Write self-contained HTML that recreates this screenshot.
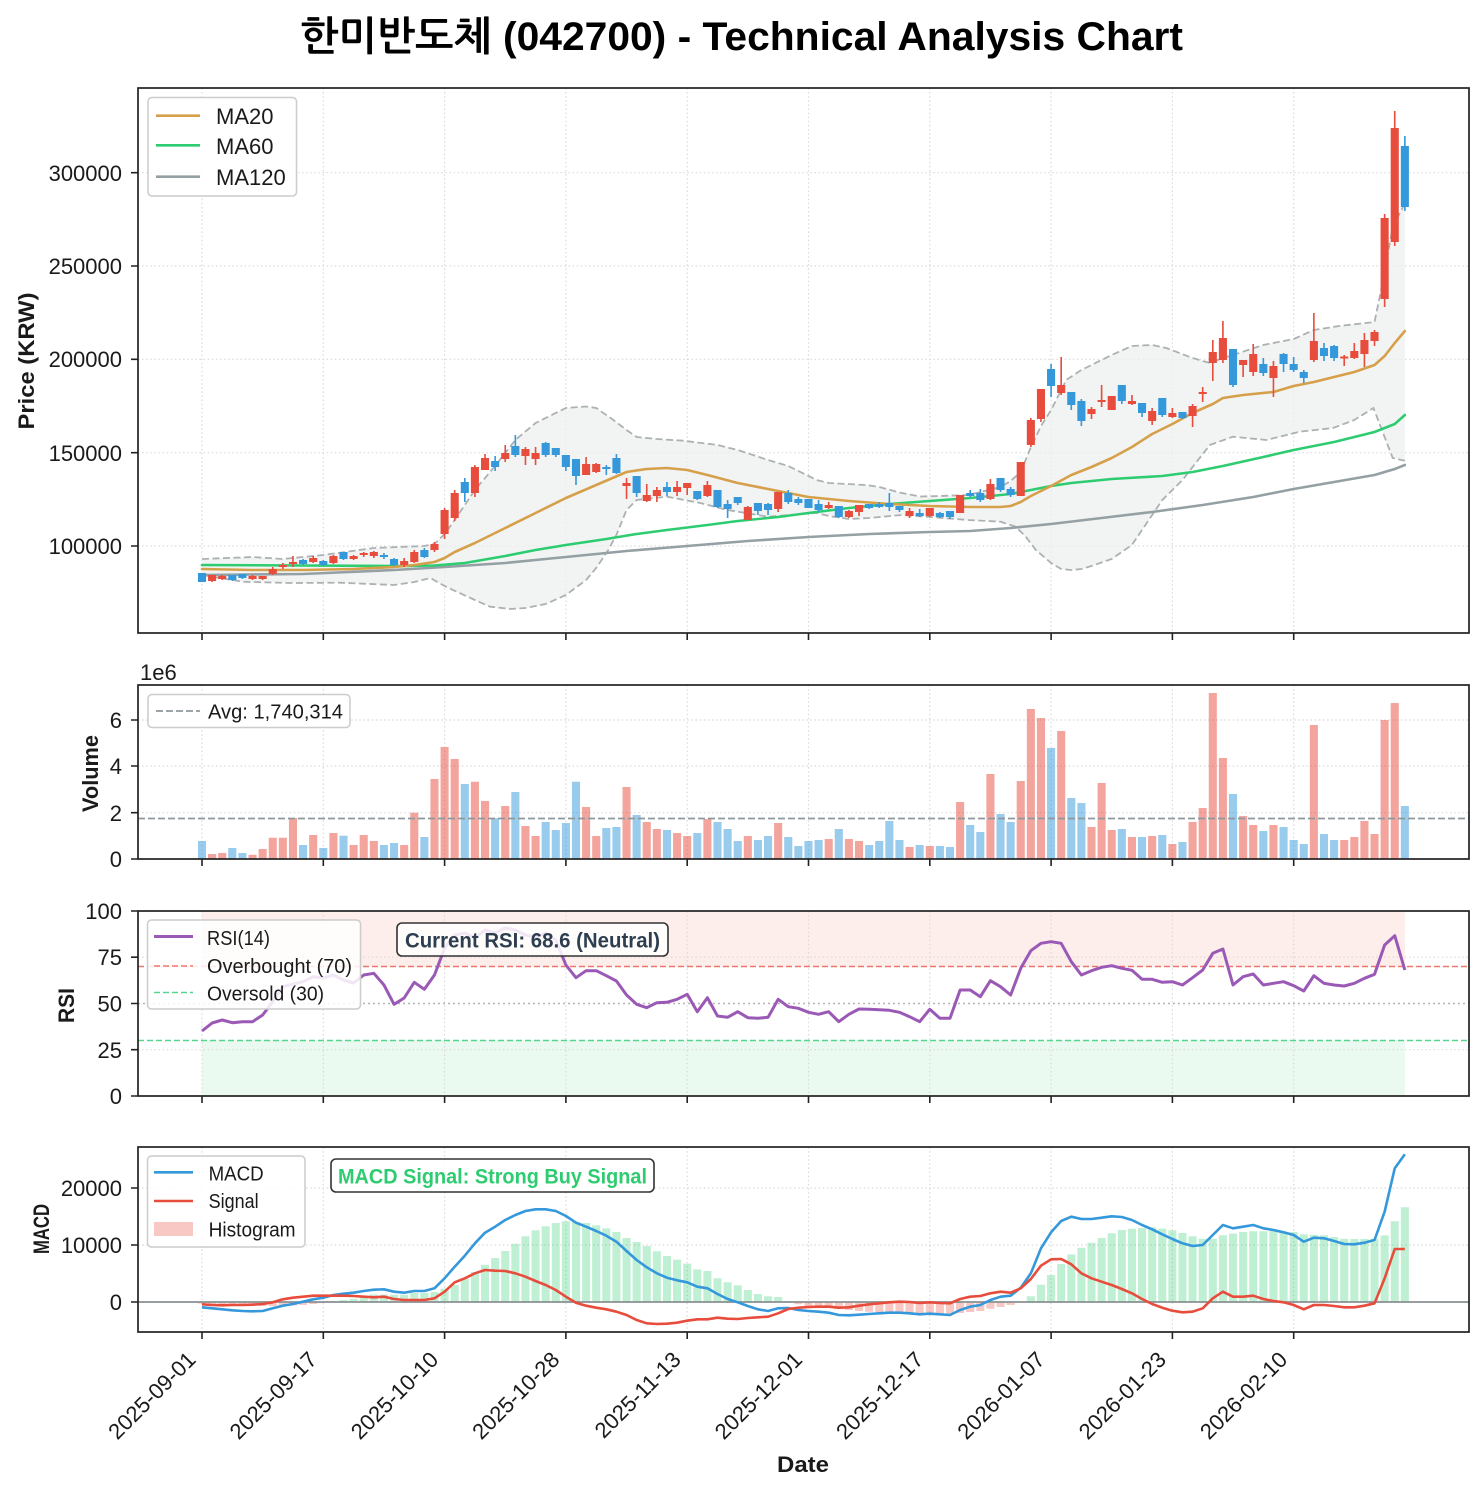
<!DOCTYPE html>
<html><head><meta charset="utf-8">
<style>
html,body{margin:0;padding:0;background:#fff}
svg{display:block}
text{font-family:"Liberation Sans","NanumGothic",sans-serif;fill:#1a1a1a}
.grid{fill:none;stroke:#d9d9d9;stroke-width:1.2;stroke-dasharray:1.5 2.6}
.frame{fill:none;stroke:#222;stroke-width:1.7}
.tick{fill:none;stroke:#222;stroke-width:1.6}
.yl{font-size:22px;text-anchor:end}
.xl{font-size:22px;text-anchor:end}
.al{font-size:22px;font-weight:bold;text-anchor:middle}
</style></head><body>
<svg width="1483" height="1491" viewBox="0 0 1483 1491" xmlns="http://www.w3.org/2000/svg">
<rect width="1483" height="1491" fill="#fff"/>

<text x="741.5" y="50" text-anchor="middle" font-size="40" font-weight="bold" textLength="883" lengthAdjust="spacingAndGlyphs" style="fill:#000;font-family:'Liberation Sans','NanumGothic',sans-serif">한미반도체 (042700) - Technical Analysis Chart</text>

<!-- ============ PRICE PANEL ============ -->
<path class="grid" d="M202,88V633M323.3,88V633M444.6,88V633M565.9,88V633M687.2,88V633M808.5,88V633M929.8,88V633M1051.1,88V633M1172.4,88V633M1293.7,88V633M138,172.7H1469M138,266H1469M138,359.3H1469M138,452.7H1469M138,546H1469"/>

<polygon fill="#eef0f0" fill-opacity="0.75" points="202,559 252.5,557 282.9,559 323.3,555 373.8,548 424.4,546 434.5,544 444.6,534 454.7,520 474.9,490 490.1,472 505.2,453 515.3,440 535.6,423 565.9,408 586.1,406.5 596.2,408 613.4,420 626.5,430 636.6,437 656.9,439 683.1,440.7 717.5,445 737.7,450 768,460 788.3,466 816.6,480 828.7,483 866.1,485 879.2,487 899.5,492.5 919.7,496.5 939.9,496 968.2,495 1000.5,487 1010.6,481 1020.7,472 1030.9,447 1041,426 1051.1,410 1066.2,380 1081.4,370 1101.6,360 1111.7,355 1131.9,346 1152.2,345 1166.3,348 1192.6,358 1209.8,363 1222.9,358 1233,355 1263.3,345 1293.7,339 1313.9,330 1339.2,326 1374.5,322 1382.6,283 1392.7,227 1404.9,203 1404.9,460.7 1392.7,458 1373.5,408 1354.3,420 1333.1,428 1299.7,431.7 1266.4,440 1233,436.7 1209.8,445 1182.5,480 1162.3,500 1150.1,518 1131.9,545 1111.7,559 1091.5,566 1081.4,569 1071.3,570 1061.2,569 1051.1,563 1035.9,550 1025.8,536.7 1015.7,526.7 1000.5,521.7 968.2,520 929.8,517 901.5,515 869.1,518 848.9,519 828.7,516 816.6,513 788.3,515 768,516.7 727.6,510 700.3,503 667,496.7 636.6,500 626.5,510 616.4,535 608.3,550 596.2,568 586.1,580 565.9,595 545.7,604 525.5,608 510.3,609 490.1,606.7 474.9,600 456.7,591.7 444.6,586 430.4,578 414.3,582 394.1,585 339.5,582.7 289.9,583 242.4,581.7 202,575"/>
<g fill="none" stroke="#acb1b3" stroke-width="1.8" stroke-dasharray="7 3.5">
<polyline points="202,559 252.5,557 282.9,559 323.3,555 373.8,548 424.4,546 434.5,544 444.6,534 454.7,520 474.9,490 490.1,472 505.2,453 515.3,440 535.6,423 565.9,408 586.1,406.5 596.2,408 613.4,420 626.5,430 636.6,437 656.9,439 683.1,440.7 717.5,445 737.7,450 768,460 788.3,466 816.6,480 828.7,483 866.1,485 879.2,487 899.5,492.5 919.7,496.5 939.9,496 968.2,495 1000.5,487 1010.6,481 1020.7,472 1030.9,447 1041,426 1051.1,410 1066.2,380 1081.4,370 1101.6,360 1111.7,355 1131.9,346 1152.2,345 1166.3,348 1192.6,358 1209.8,363 1222.9,358 1233,355 1263.3,345 1293.7,339 1313.9,330 1339.2,326 1374.5,322 1382.6,283 1392.7,227 1404.9,203"/>
<polyline points="202,575 242.4,581.7 289.9,583 339.5,582.7 394.1,585 414.3,582 430.4,578 444.6,586 456.7,591.7 474.9,600 490.1,606.7 510.3,609 525.5,608 545.7,604 565.9,595 586.1,580 596.2,568 608.3,550 616.4,535 626.5,510 636.6,500 667,496.7 700.3,503 727.6,510 768,516.7 788.3,515 816.6,513 828.7,516 848.9,519 869.1,518 901.5,515 929.8,517 968.2,520 1000.5,521.7 1015.7,526.7 1025.8,536.7 1035.9,550 1051.1,563 1061.2,569 1071.3,570 1081.4,569 1091.5,566 1111.7,559 1131.9,545 1150.1,518 1162.3,500 1182.5,480 1209.8,445 1233,436.7 1266.4,440 1299.7,431.7 1333.1,428 1354.3,420 1373.5,408 1392.7,458 1404.9,460.7"/>
</g>

<g transform="translate(202,0) scale(10.108,1)">
<g fill="none" stroke-width="2.6" stroke-linejoin="round" stroke-linecap="round">
<polyline vector-effect="non-scaling-stroke" stroke="#95a0a5" points="0,575 10,574 19,570 24,567 30,563 36,557 42,551 48,546 54,541 60,537 66,534 72,532 76,531 80,528 84,524 89,518 94,512 99,505 104,497 108,489 112,482 116,475 118,469 119,465"/>
<polyline vector-effect="non-scaling-stroke" stroke="#2ecc71" points="0,565 10,565.5 20,566 23,565.5 26,563 30,556 33,550 36,545 40,539 43,534 46,530 50,525 53,521 57,517 60,513 64,508 68,504 72,501 76,498 80,494 82,490 84,486 86,483 88,481 90,479 95,476 98,472 101,466 105,457 108,450 112,442 116,432 118,424 119,415"/>
<polyline vector-effect="non-scaling-stroke" stroke="#d6a04a" points="0,569 5,570 10,570 15,569 19,567 21,565 23,562 24,558 25,552 27,543 30,528 33,513 36,498 39,485 42,472 44,469 46,468 48,470 50,475 53,483 56,489 60,497 64,501 68,504 72,506 76,507 79,507 80,506 81,502 82,496 84,486 86,475 88,467 90,458 92,447 94,434 96,424 98,413 100,404 101,398 103,395 106,392 108,386 110,382 112,377 114,372 116,365 117,356 118,343 119,331"/>
</g>
<path fill="#e74c3c" d="M.6,575h.8v6h-.8zM.92,575h.16v7h-.16zM1.6,576h.8v3h-.8zM1.92,575h.16v5h-.16zM4.6,576h.8v3h-.8zM4.92,575h.16v5h-.16zM5.6,576h.8v3h-.8zM5.92,576h.16v4h-.16zM6.6,569h.8v5h-.8zM6.92,567h.16v8h-.16zM7.6,565h.8v2h-.8zM7.92,563h.16v6h-.16zM8.6,562h.8v2h-.8zM8.92,556h.16v11h-.16zM10.6,558h.8v4h-.8zM10.92,556h.16v7h-.16zM12.6,556h.8v7h-.8zM12.92,555h.16v9h-.16zM14.6,556h.8v3h-.8zM14.92,555h.16v5h-.16zM15.6,553h.8v2h-.8zM15.92,552h.16v5h-.16zM16.6,552h.8v4h-.8zM16.92,551h.16v7h-.16zM19.6,561h.8v4h-.8zM19.92,558h.16v9h-.16zM20.6,552h.8v10h-.8zM20.92,550h.16v13h-.16zM22.6,544h.8v6h-.8zM22.92,542h.16v10h-.16zM23.6,510h.8v24h-.8zM23.92,508h.16v31h-.16zM24.6,493h.8v25h-.8zM24.92,490h.16v31h-.16zM26.6,467h.8v26h-.8zM26.92,465h.16v32h-.16zM27.6,458h.8v12h-.8zM27.92,454h.16v16h-.16zM29.6,453h.8v6h-.8zM29.92,445h.16v17h-.16zM31.6,449h.8v7h-.8zM31.92,447h.16v18h-.16zM32.6,453h.8v6h-.8zM32.92,447h.16v18h-.16zM37.6,464h.8v11h-.8zM37.92,457h.16v18h-.16zM38.6,464h.8v8h-.8zM38.92,463h.16v10h-.16zM41.6,483h.8v3h-.8zM41.92,478h.16v21h-.16zM43.6,495h.8v6h-.8zM43.92,484h.16v18h-.16zM44.6,490h.8v6h-.8zM44.92,487h.16v15h-.16zM46.6,487h.8v5h-.8zM46.92,481h.16v15h-.16zM47.6,483h.8v5h-.8zM47.92,483h.16v12h-.16zM49.6,485h.8v11h-.8zM49.92,481h.16v16h-.16zM53.6,507h.8v13h-.8zM53.92,506h.16v14h-.16zM56.6,492h.8v17h-.8zM56.92,492h.16v20h-.16zM61.6,505h.8v3h-.8zM61.92,502h.16v7h-.16zM63.6,511h.8v6h-.8zM63.92,510h.16v8h-.16zM64.6,505h.8v7h-.8zM64.92,505h.16v11h-.16zM69.6,511h.8v5h-.8zM69.92,508h.16v10h-.16zM71.6,508h.8v8h-.8zM71.92,508h.16v9h-.16zM74.6,495h.8v18h-.8zM77.6,484h.8v15h-.8zM77.92,479h.16v21h-.16zM80.6,462h.8v34h-.8zM81.6,420h.8v25h-.8zM81.92,418h.16v29h-.16zM82.6,389h.8v30h-.8zM82.92,389h.16v33h-.16zM84.6,385h.8v8h-.8zM84.92,357h.16v38h-.16zM87.6,409h.8v5h-.8zM87.92,407h.16v12h-.16zM88.6,400h.8v2h-.8zM88.92,385h.16v22h-.16zM89.6,396h.8v14h-.8zM91.6,401h.8v3h-.8zM91.92,395h.16v10h-.16zM93.6,411h.8v10h-.8zM93.92,408h.16v17h-.16zM95.6,413h.8v4h-.8zM95.92,408h.16v10h-.16zM97.6,406h.8v10h-.8zM97.92,404h.16v23h-.16zM98.6,392h.8v2h-.8zM98.92,387h.16v15h-.16zM99.6,352h.8v11h-.8zM99.92,340h.16v41h-.16zM100.6,338h.8v22h-.8zM100.92,321h.16v42h-.16zM102.6,360h.8v5h-.8zM102.92,360h.16v17h-.16zM103.6,354h.8v18h-.8zM103.92,344h.16v32h-.16zM105.6,366h.8v12h-.8zM105.92,361h.16v36h-.16zM109.6,341h.8v19h-.8zM109.92,313h.16v49h-.16zM112.6,356.5h.8v2h-.8zM112.92,355h.16v11h-.16zM113.6,351h.8v7h-.8zM113.92,343h.16v16h-.16zM114.6,340h.8v14h-.8zM114.92,333h.16v34h-.16zM115.6,332h.8v9h-.8zM115.92,330h.16v16h-.16zM116.6,218h.8v81h-.8zM116.92,214h.16v93h-.16zM117.6,128h.8v114h-.8zM117.92,111h.16v135h-.16z"/>
<path fill="#3498db" d="M-.4,573h.8v9h-.8zM-.08,573h.16v9h-.16zM2.6,575h.8v5h-.8zM2.92,575h.16v6h-.16zM3.6,574h.8v4h-.8zM3.92,574h.16v5h-.16zM9.6,560h.8v4h-.8zM9.92,559h.16v6h-.16zM11.6,561h.8v4h-.8zM11.92,560h.16v6h-.16zM13.6,552h.8v7h-.8zM13.92,552h.16v8h-.16zM17.6,555h.8v2h-.8zM17.92,553h.16v6h-.16zM18.6,559h.8v6h-.8zM18.92,558h.16v8h-.16zM21.6,550h.8v7h-.8zM21.92,548h.16v10h-.16zM25.6,482h.8v11h-.8zM25.92,478h.16v24h-.16zM28.6,461h.8v6h-.8zM28.92,456h.16v15h-.16zM30.6,446h.8v9h-.8zM30.92,435h.16v22h-.16zM33.6,443h.8v12h-.8zM33.92,442h.16v15h-.16zM34.6,448h.8v7h-.8zM34.92,448h.16v9h-.16zM35.6,455h.8v12h-.8zM35.92,455h.16v16h-.16zM36.6,459h.8v17h-.8zM36.92,459h.16v26h-.16zM39.6,467h.8v2h-.8zM39.92,465h.16v10h-.16zM40.6,458h.8v15h-.8zM40.92,454h.16v20h-.16zM42.6,476h.8v17h-.8zM42.92,476h.16v21h-.16zM45.6,487h.8v5h-.8zM45.92,482h.16v14h-.16zM48.6,491h.8v8h-.8zM48.92,491h.16v9h-.16zM50.6,490h.8v17h-.8zM50.92,490h.16v18h-.16zM51.6,504h.8v5h-.8zM51.92,500h.16v18h-.16zM52.6,497h.8v6h-.8zM52.92,497h.16v8h-.16zM54.6,503h.8v8h-.8zM54.92,503h.16v12h-.16zM55.6,504h.8v6h-.8zM55.92,503h.16v12h-.16zM57.6,493h.8v9h-.8zM57.92,490h.16v14h-.16zM58.6,499h.8v4h-.8zM58.92,497h.16v8h-.16zM59.6,499h.8v9h-.8zM60.6,504h.8v6h-.8zM60.92,500h.16v12h-.16zM62.6,506h.8v11h-.8zM62.92,506h.16v12h-.16zM65.6,504h.8v4h-.8zM65.92,504h.16v5h-.16zM66.6,504h.8v3h-.8zM66.92,502h.16v6h-.16zM67.6,503h.8v4h-.8zM67.92,493h.16v18h-.16zM68.6,506h.8v4h-.8zM68.92,506h.16v6h-.16zM70.6,513h.8v3h-.8zM70.92,509h.16v8h-.16zM72.6,513h.8v4h-.8zM72.92,512h.16v6h-.16zM73.6,511h.8v6h-.8zM73.92,511h.16v8h-.16zM75.6,493h.8v3h-.8zM75.92,490h.16v7h-.16zM76.6,493h.8v7h-.8zM76.92,489h.16v13h-.16zM78.6,478h.8v12h-.8zM78.92,478h.16v14h-.16zM79.6,489h.8v6h-.8zM79.92,487h.16v10h-.16zM83.6,369h.8v17h-.8zM83.92,364h.16v33h-.16zM85.6,392h.8v13h-.8zM85.92,392h.16v18h-.16zM86.6,401h.8v20h-.8zM86.92,399h.16v27h-.16zM90.6,385h.8v16h-.8zM90.92,385h.16v19h-.16zM92.6,403h.8v10h-.8zM92.92,403h.16v14h-.16zM94.6,398h.8v17h-.8zM94.92,398h.16v19h-.16zM96.6,412h.8v6h-.8zM96.92,412h.16v7h-.16zM101.6,349h.8v36h-.8zM101.92,349h.16v38h-.16zM104.6,364h.8v9h-.8zM104.92,358h.16v18h-.16zM106.6,354h.8v10h-.8zM106.92,353h.16v19h-.16zM107.6,364h.8v6h-.8zM107.92,357h.16v15h-.16zM108.6,372h.8v6h-.8zM108.92,370h.16v13h-.16zM110.6,348h.8v8h-.8zM110.92,343h.16v18h-.16zM111.6,346h.8v12h-.8zM111.92,345h.16v16h-.16zM118.6,146h.8v61h-.8zM118.92,136h.16v75h-.16z"/>
</g>

<rect class="frame" x="138" y="88" width="1331" height="545"/>
<path class="tick" d="M131,172.7H138M131,266H138M131,359.3H138M131,452.7H138M131,546H138M202,633V640M323.3,633V640M444.6,633V640M565.9,633V640M687.2,633V640M808.5,633V640M929.8,633V640M1051.1,633V640M1172.4,633V640M1293.7,633V640"/>
<text class="yl" x="122" y="181">300000</text>
<text class="yl" x="122" y="274">250000</text>
<text class="yl" x="122" y="367">200000</text>
<text class="yl" x="122" y="461">150000</text>
<text class="yl" x="122" y="554">100000</text>
<text class="al" transform="translate(34,361) rotate(-90)" font-size="23" textLength="137" lengthAdjust="spacingAndGlyphs">Price (KRW)</text>

<rect x="148" y="97.5" width="148.5" height="98.5" rx="4" fill="#fff" fill-opacity="0.85" stroke="#cccccc" stroke-width="1.5"/>
<path d="M156,115.7H200" stroke="#d6a04a" stroke-width="2.6"/>
<path d="M156,145.3H200" stroke="#2ecc71" stroke-width="2.6"/>
<path d="M156,176.7H200" stroke="#95a0a5" stroke-width="2.6"/>
<text x="216" y="124" font-size="22">MA20</text>
<text x="216" y="154" font-size="22">MA60</text>
<text x="216" y="185" font-size="22">MA120</text>

<!-- ============ VOLUME PANEL ============ -->
<path class="grid" d="M202,685V859M323.3,685V859M444.6,685V859M565.9,685V859M687.2,685V859M808.5,685V859M929.8,685V859M1051.1,685V859M1172.4,685V859M1293.7,685V859M138,812.7H1469M138,766H1469M138,720H1469"/>
<g transform="translate(202,0) scale(10.108,1)">
<path fill="#e74c3c" fill-opacity="0.5" d="M.6,859V854h.8V859zM1.6,859V853h.8V859zM4.6,859V854.7h.8V859zM5.6,859V849h.8V859zM6.6,859V837.7h.8V859zM7.6,859V837.7h.8V859zM8.6,859V818h.8V859zM10.6,859V835h.8V859zM12.6,859V833h.8V859zM14.6,859V845h.8V859zM15.6,859V835h.8V859zM16.6,859V841h.8V859zM19.6,859V845h.8V859zM20.6,859V812.7h.8V859zM22.6,859V779h.8V859zM23.6,859V747h.8V859zM24.6,859V759h.8V859zM26.6,859V781.7h.8V859zM27.6,859V801h.8V859zM29.6,859V806h.8V859zM31.6,859V826h.8V859zM32.6,859V836h.8V859zM37.6,859V807h.8V859zM38.6,859V836h.8V859zM41.6,859V787h.8V859zM43.6,859V822h.8V859zM44.6,859V829h.8V859zM46.6,859V833h.8V859zM47.6,859V836h.8V859zM49.6,859V819h.8V859zM53.6,859V836h.8V859zM56.6,859V823h.8V859zM61.6,859V839h.8V859zM63.6,859V839h.8V859zM64.6,859V841h.8V859zM69.6,859V847h.8V859zM71.6,859V846h.8V859zM74.6,859V802h.8V859zM77.6,859V774h.8V859zM80.6,859V781h.8V859zM81.6,859V709h.8V859zM82.6,859V718h.8V859zM84.6,859V731h.8V859zM87.6,859V827h.8V859zM88.6,859V783h.8V859zM89.6,859V830h.8V859zM91.6,859V837h.8V859zM93.6,859V836h.8V859zM95.6,859V844h.8V859zM97.6,859V822h.8V859zM98.6,859V808h.8V859zM99.6,859V693h.8V859zM100.6,859V758h.8V859zM102.6,859V816h.8V859zM103.6,859V825h.8V859zM105.6,859V825h.8V859zM109.6,859V725h.8V859zM112.6,859V840h.8V859zM113.6,859V837h.8V859zM114.6,859V821h.8V859zM115.6,859V834h.8V859zM116.6,859V720h.8V859zM117.6,859V703h.8V859z"/>
<path fill="#3498db" fill-opacity="0.5" d="M-.4,859V841h.8V859zM2.6,859V848h.8V859zM3.6,859V853h.8V859zM9.6,859V845h.8V859zM11.6,859V848h.8V859zM13.6,859V835.7h.8V859zM17.6,859V845h.8V859zM18.6,859V843h.8V859zM21.6,859V837h.8V859zM25.6,859V784h.8V859zM28.6,859V818.3h.8V859zM30.6,859V792h.8V859zM33.6,859V822h.8V859zM34.6,859V830h.8V859zM35.6,859V823h.8V859zM36.6,859V781.7h.8V859zM39.6,859V828h.8V859zM40.6,859V827h.8V859zM42.6,859V815h.8V859zM45.6,859V830h.8V859zM48.6,859V833h.8V859zM50.6,859V822h.8V859zM51.6,859V829h.8V859zM52.6,859V841h.8V859zM54.6,859V840h.8V859zM55.6,859V836h.8V859zM57.6,859V837h.8V859zM58.6,859V846h.8V859zM59.6,859V841h.8V859zM60.6,859V840h.8V859zM62.6,859V829h.8V859zM65.6,859V845h.8V859zM66.6,859V841h.8V859zM67.6,859V821h.8V859zM68.6,859V840h.8V859zM70.6,859V845h.8V859zM72.6,859V846h.8V859zM73.6,859V847h.8V859zM75.6,859V825h.8V859zM76.6,859V832h.8V859zM78.6,859V814h.8V859zM79.6,859V822h.8V859zM83.6,859V748h.8V859zM85.6,859V798h.8V859zM86.6,859V803h.8V859zM90.6,859V829h.8V859zM92.6,859V837h.8V859zM94.6,859V835h.8V859zM96.6,859V842h.8V859zM101.6,859V794h.8V859zM104.6,859V831h.8V859zM106.6,859V827h.8V859zM107.6,859V840h.8V859zM108.6,859V844h.8V859zM110.6,859V834h.8V859zM111.6,859V840h.8V859zM118.6,859V806h.8V859z"/>
</g>
<path d="M138,818.5H1469" stroke="#8e999d" stroke-width="1.8" stroke-dasharray="7 3"/>
<rect class="frame" x="138" y="685" width="1331" height="174"/>
<path class="tick" d="M131,859H138M131,812.7H138M131,766H138M131,720H138M202,859V866M323.3,859V866M444.6,859V866M565.9,859V866M687.2,859V866M808.5,859V866M929.8,859V866M1051.1,859V866M1172.4,859V866M1293.7,859V866"/>
<text class="yl" x="122" y="867">0</text>
<text class="yl" x="122" y="821">2</text>
<text class="yl" x="122" y="774">4</text>
<text class="yl" x="122" y="728">6</text>
<text x="140" y="680" font-size="22">1e6</text>
<text class="al" transform="translate(98,773.5) rotate(-90)" textLength="77" lengthAdjust="spacingAndGlyphs">Volume</text>
<rect x="148" y="694.5" width="202" height="33" rx="4" fill="#fff" fill-opacity="0.85" stroke="#cccccc" stroke-width="1.5"/>
<path d="M156,711H200" stroke="#8e999d" stroke-width="1.8" stroke-dasharray="7 3"/>
<text x="208" y="718.5" font-size="20" textLength="135" lengthAdjust="spacingAndGlyphs">Avg: 1,740,314</text>

<!-- ============ RSI PANEL ============ -->
<rect x="202" y="911" width="1202.9" height="55.5" fill="#e74c3c" fill-opacity="0.1"/>
<rect x="202" y="1040.5" width="1202.9" height="55.5" fill="#2ecc71" fill-opacity="0.1"/>
<path class="grid" d="M202,911V1096M323.3,911V1096M444.6,911V1096M565.9,911V1096M687.2,911V1096M808.5,911V1096M929.8,911V1096M1051.1,911V1096M1172.4,911V1096M1293.7,911V1096M138,957.2H1469M138,1049.7H1469"/>
<path d="M138,1003.5H1469" stroke="#b5b5b5" stroke-width="1.5" stroke-dasharray="2 3"/>
<path d="M138,966.5H1469" stroke="#e74c3c" stroke-opacity="0.75" stroke-width="1.6" stroke-dasharray="6 3"/>
<path d="M138,1040.5H1469" stroke="#2ecc71" stroke-opacity="0.8" stroke-width="1.6" stroke-dasharray="6 3"/>
<g transform="translate(202,0) scale(10.108,1)">
<polyline vector-effect="non-scaling-stroke" fill="none" stroke="#9b59b6" stroke-width="3" stroke-linejoin="round" points="0,1031 1,1023 2,1020 3,1022.7 4,1021.7 5,1021.7 6,1015 7,1001.7 8,986.7 9,984 10,981.7 11,976.7 12,978 13,975 14,980 15,983 16,975 17,973.3 18,985 19,1004.3 20,998 21,982.3 22,989.3 23,975 24,948.3 25,935 26,933 27,938 28,930 29,933 30,928 31,930 32,935 33,937 34,933 35,940 36,965 37,977.7 38,970.7 39,970.7 40,975.7 41,981 42,995 43,1004.3 44,1007.7 45,1002.7 46,1002.3 47,999.3 48,994.3 49,1011.7 50,997.7 51,1016 52,1017.3 53,1011.7 54,1017.7 55,1018.3 56,1017.3 57,999.3 58,1006.7 59,1008.3 60,1012.3 61,1014.3 62,1011.7 63,1021.7 64,1014.3 65,1009 66,1009.3 67,1009.7 68,1010.3 69,1012.3 70,1016.7 71,1021.7 72,1009.3 73,1018.3 74,1018.3 75,990 76,990 77,996.7 78,980.7 79,986.7 80,995 81,968.3 82,950.7 83,943.3 84,941.7 85,943.3 86,961.7 87,975 88,970.7 89,967.3 90,965.7 91,968.3 92,970.3 93,979.3 94,979.3 95,982.3 96,981.7 97,985 98,977.7 99,970 100,953.3 101,949 102,985 103,976.7 104,974 105,985 106,983.3 107,981.7 108,985.7 109,991 110,975.7 111,983.3 112,985 113,986 114,983.3 115,978.3 116,974.3 117,945 118,935.7 119,970"/>
</g>
<rect class="frame" x="138" y="911" width="1331" height="185"/>
<path class="tick" d="M131,1096H138M131,1049.7H138M131,1003.5H138M131,957.2H138M131,911H138M202,1096V1103M323.3,1096V1103M444.6,1096V1103M565.9,1096V1103M687.2,1096V1103M808.5,1096V1103M929.8,1096V1103M1051.1,1096V1103M1172.4,1096V1103M1293.7,1096V1103"/>
<text class="yl" x="122" y="1104">0</text>
<text class="yl" x="122" y="1058">25</text>
<text class="yl" x="122" y="1011.5">50</text>
<text class="yl" x="122" y="965">75</text>
<text class="yl" x="122" y="919">100</text>
<text class="al" transform="translate(74,1005.5) rotate(-90)" textLength="35" lengthAdjust="spacingAndGlyphs">RSI</text>
<rect x="147.5" y="920" width="213" height="89" rx="4" fill="#fff" fill-opacity="0.85" stroke="#cccccc" stroke-width="1.5"/>
<path d="M154,936.5H193" stroke="#9b59b6" stroke-width="3"/>
<path d="M154,966H193" stroke="#e74c3c" stroke-opacity="0.75" stroke-width="1.6" stroke-dasharray="6 3"/>
<path d="M154,992.5H193" stroke="#2ecc71" stroke-opacity="0.8" stroke-width="1.6" stroke-dasharray="6 3"/>
<text x="207" y="945" font-size="20" textLength="63" lengthAdjust="spacingAndGlyphs">RSI(14)</text>
<text x="207" y="973" font-size="20" textLength="145" lengthAdjust="spacingAndGlyphs">Overbought (70)</text>
<text x="207" y="1000.5" font-size="20" textLength="117" lengthAdjust="spacingAndGlyphs">Oversold (30)</text>
<rect x="397" y="923" width="271" height="33" rx="5" fill="#fff" fill-opacity="0.85" stroke="#333" stroke-width="1.6"/>
<text x="532.5" y="947.5" text-anchor="middle" font-size="21" font-weight="bold" textLength="255" lengthAdjust="spacingAndGlyphs" style="fill:#2c3e50">Current RSI: 68.6 (Neutral)</text>

<!-- ============ MACD PANEL ============ -->
<path class="grid" d="M202,1147V1332M323.3,1147V1332M444.6,1147V1332M565.9,1147V1332M687.2,1147V1332M808.5,1147V1332M929.8,1147V1332M1051.1,1147V1332M1172.4,1147V1332M1293.7,1147V1332M138,1188H1469M138,1245H1469"/>
<g transform="translate(202,0) scale(10.108,1)">
<path fill="#2ecc71" fill-opacity="0.3" d="M12.6,1302V1301.3h.8V1302zM13.6,1302V1300h.8V1302zM14.6,1302V1298.7h.8V1302zM15.6,1302V1296.3h.8V1302zM16.6,1302V1294.4h.8V1302zM17.6,1302V1294.6h.8V1302zM18.6,1302V1294.7h.8V1302zM19.6,1302V1294.7h.8V1302zM20.6,1302V1293h.8V1302zM21.6,1302V1293h.8V1302zM22.6,1302V1292h.8V1302zM23.6,1302V1288.6h.8V1302zM24.6,1302V1285h.8V1302zM25.6,1302V1279h.8V1302zM26.6,1302V1272h.8V1302zM27.6,1302V1264.7h.8V1302zM28.6,1302V1258h.8V1302zM29.6,1302V1251h.8V1302zM30.6,1302V1243.7h.8V1302zM31.6,1302V1236.3h.8V1302zM32.6,1302V1230.3h.8V1302zM33.6,1302V1226.3h.8V1302zM34.6,1302V1223h.8V1302zM35.6,1302V1221.3h.8V1302zM36.6,1302V1222h.8V1302zM37.6,1302V1223h.8V1302zM38.6,1302V1225.3h.8V1302zM39.6,1302V1228.4h.8V1302zM40.6,1302V1232h.8V1302zM41.6,1302V1238h.8V1302zM42.6,1302V1242h.8V1302zM43.6,1302V1246h.8V1302zM44.6,1302V1251.3h.8V1302zM45.6,1302V1256h.8V1302zM46.6,1302V1259.6h.8V1302zM47.6,1302V1263.6h.8V1302zM48.6,1302V1269.4h.8V1302zM49.6,1302V1271h.8V1302zM50.6,1302V1278.3h.8V1302zM51.6,1302V1282.3h.8V1302zM52.6,1302V1285.3h.8V1302zM53.6,1302V1290h.8V1302zM54.6,1302V1294h.8V1302zM55.6,1302V1296.3h.8V1302zM56.6,1302V1297h.8V1302zM57.6,1302V1301h.8V1302zM80.6,1302V1301.4h.8V1302zM81.6,1302V1296.3h.8V1302zM82.6,1302V1284.6h.8V1302zM83.6,1302V1275h.8V1302zM84.6,1302V1264h.8V1302zM85.6,1302V1254.4h.8V1302zM86.6,1302V1247.7h.8V1302zM87.6,1302V1242.7h.8V1302zM88.6,1302V1238h.8V1302zM89.6,1302V1233.3h.8V1302zM90.6,1302V1230h.8V1302zM91.6,1302V1228.7h.8V1302zM92.6,1302V1228h.8V1302zM93.6,1302V1227.3h.8V1302zM94.6,1302V1228.6h.8V1302zM95.6,1302V1230.3h.8V1302zM96.6,1302V1233h.8V1302zM97.6,1302V1236.3h.8V1302zM98.6,1302V1238.7h.8V1302zM99.6,1302V1238.7h.8V1302zM100.6,1302V1235.3h.8V1302zM101.6,1302V1233.6h.8V1302zM102.6,1302V1232h.8V1302zM103.6,1302V1231.3h.8V1302zM104.6,1302V1231.3h.8V1302zM105.6,1302V1231h.8V1302zM106.6,1302V1232h.8V1302zM107.6,1302V1232h.8V1302zM108.6,1302V1234.4h.8V1302zM109.6,1302V1234.7h.8V1302zM110.6,1302V1235.3h.8V1302zM111.6,1302V1237h.8V1302zM112.6,1302V1238.7h.8V1302zM113.6,1302V1239h.8V1302zM114.6,1302V1239h.8V1302zM115.6,1302V1238.7h.8V1302zM116.6,1302V1235.4h.8V1302zM117.6,1302V1221.3h.8V1302zM118.6,1302V1207.3h.8V1302z"/>
<path fill="#e74c3c" fill-opacity="0.3" d="M-.4,1302V1303.5h.8V1302zM.6,1302V1304h.8V1302zM1.6,1302V1304.5h.8V1302zM2.6,1302V1305h.8V1302zM3.6,1302V1305h.8V1302zM4.6,1302V1305.5h.8V1302zM5.6,1302V1306h.8V1302zM6.6,1302V1306h.8V1302zM7.6,1302V1306h.8V1302zM8.6,1302V1305.5h.8V1302zM9.6,1302V1305h.8V1302zM10.6,1302V1304h.8V1302zM11.6,1302V1303h.8V1302zM58.6,1302V1304.3h.8V1302zM59.6,1302V1306h.8V1302zM60.6,1302V1307h.8V1302zM61.6,1302V1308h.8V1302zM62.6,1302V1309.3h.8V1302zM63.6,1302V1310h.8V1302zM64.6,1302V1311h.8V1302zM65.6,1302V1311.7h.8V1302zM66.6,1302V1312h.8V1302zM67.6,1302V1312.4h.8V1302zM68.6,1302V1313h.8V1302zM69.6,1302V1313.3h.8V1302zM70.6,1302V1313.3h.8V1302zM71.6,1302V1313.4h.8V1302zM72.6,1302V1313.3h.8V1302zM73.6,1302V1313.7h.8V1302zM74.6,1302V1313h.8V1302zM75.6,1302V1312h.8V1302zM76.6,1302V1311h.8V1302zM77.6,1302V1308.7h.8V1302zM78.6,1302V1307h.8V1302zM79.6,1302V1305h.8V1302z"/>
</g>
<path d="M138,1302H1469" stroke="#8a9092" stroke-width="1.8"/>
<g transform="translate(202,0) scale(10.108,1)" fill="none" stroke-width="2.6" stroke-linejoin="round">
<polyline vector-effect="non-scaling-stroke" stroke="#3498db" points="0,1307.3 1,1308.3 2,1309.3 3,1310.3 4,1311 5,1311.3 6,1311 7,1308.3 8,1305.7 9,1304 10,1301.7 11,1299.3 12,1297.7 13,1295 14,1293.7 15,1292.7 16,1291 17,1289.7 18,1289.3 19,1291.7 20,1292.7 21,1291 22,1291 23,1288.3 24,1278.3 25,1266.7 26,1255.7 27,1243.3 28,1232.7 29,1226.7 30,1220 31,1215 32,1211 33,1209.3 34,1209.3 35,1211 36,1216 37,1222.7 38,1226.7 39,1231 40,1235.7 41,1241.7 42,1251 43,1260 44,1267.3 45,1273.3 46,1277.7 47,1280.3 48,1282.3 49,1286.7 50,1288.3 51,1294 52,1299 53,1302.3 54,1306 55,1309.3 56,1311 57,1308.3 58,1308 59,1310 60,1311 61,1311.7 62,1312.7 63,1315 64,1315.3 65,1314.7 66,1314 67,1313.3 68,1312.7 69,1312.7 70,1313.3 71,1314.3 72,1313.7 73,1314.3 74,1315 75,1310 76,1306.7 77,1305 78,1300 79,1296.7 80,1295.7 81,1287.7 82,1273.3 83,1248.3 84,1232.3 85,1221 86,1216.7 87,1219 88,1219 89,1217.7 90,1216.3 91,1217 92,1220 93,1225 94,1229.3 95,1234.3 96,1239 97,1243.3 98,1246 99,1245 100,1235 101,1225 102,1228.3 103,1226.7 104,1225 105,1228.3 106,1230 107,1232.3 108,1235 109,1241.7 110,1237.7 111,1238.3 112,1241 113,1244 114,1244.3 115,1242.7 116,1240 117,1211.7 118,1168.3 119,1154.3"/>
<polyline vector-effect="non-scaling-stroke" stroke="#e74c3c" points="0,1304.3 1,1305 2,1305.3 3,1305 4,1305 5,1304.7 6,1304 7,1302.3 8,1299.3 9,1297.7 10,1296.7 11,1295.7 12,1295.7 13,1295.7 14,1295.7 15,1296 16,1296.7 17,1297.3 18,1296.7 19,1299 20,1300 21,1300 22,1300 23,1298.3 24,1291.7 25,1282.3 26,1278.3 27,1273.3 28,1270 29,1270.7 30,1271 31,1273.3 32,1276.7 33,1281 34,1285 35,1290 36,1296.7 37,1302.7 38,1305.7 39,1307.7 40,1309.3 41,1311.7 42,1315 43,1320 44,1323.3 45,1324 46,1323.7 47,1322.7 48,1320.7 49,1319.3 50,1319.3 51,1317.7 52,1318.7 53,1319 54,1318 55,1317.3 56,1316.7 57,1313.3 58,1309 59,1307.7 60,1307 61,1306.7 62,1306.7 63,1307.7 64,1307.3 65,1305.7 66,1304.3 67,1303.3 68,1302.3 69,1301.7 70,1302 71,1303 72,1302.3 73,1303 74,1303.3 75,1299 76,1296.7 77,1296 78,1293.3 79,1291.7 80,1292.7 81,1288.3 82,1279 83,1265.7 84,1259.3 85,1259 86,1264.3 87,1273.3 88,1278.3 89,1281.7 90,1285 91,1289 92,1293.3 93,1299 94,1304 95,1307.7 96,1310.7 97,1312.3 98,1311.7 99,1308.3 100,1298.3 101,1291.7 102,1296.7 103,1296.7 104,1295.7 105,1299 106,1301 107,1302.3 108,1305 109,1309.3 110,1305 111,1305 112,1306 113,1307.3 114,1307.3 115,1305.7 116,1303.3 117,1278.3 118,1249 119,1249"/>
</g>
<rect class="frame" x="138" y="1147" width="1331" height="185"/>
<path class="tick" d="M131,1302H138M131,1245H138M131,1188H138M202,1332V1339M323.3,1332V1339M444.6,1332V1339M565.9,1332V1339M687.2,1332V1339M808.5,1332V1339M929.8,1332V1339M1051.1,1332V1339M1172.4,1332V1339M1293.7,1332V1339"/>
<text class="yl" x="122" y="1310">0</text>
<text class="yl" x="122" y="1253">10000</text>
<text class="yl" x="122" y="1196">20000</text>
<text class="al" transform="translate(49,1229) rotate(-90)" font-size="25" textLength="50" lengthAdjust="spacingAndGlyphs">MACD</text>
<rect x="147.5" y="1156" width="157.5" height="91" rx="4" fill="#fff" fill-opacity="0.85" stroke="#cccccc" stroke-width="1.5"/>
<path d="M154,1172.3H193" stroke="#3498db" stroke-width="2.6"/>
<path d="M154,1201H193" stroke="#e74c3c" stroke-width="2.6"/>
<rect x="154" y="1222" width="39" height="14" fill="#e74c3c" fill-opacity="0.3"/>
<text x="208.6" y="1180.5" font-size="20" textLength="55" lengthAdjust="spacingAndGlyphs">MACD</text>
<text x="208.6" y="1208" font-size="20" textLength="50" lengthAdjust="spacingAndGlyphs">Signal</text>
<text x="208.6" y="1236.5" font-size="20" textLength="87" lengthAdjust="spacingAndGlyphs">Histogram</text>
<rect x="331" y="1159" width="323" height="33" rx="5" fill="#fff" fill-opacity="0.85" stroke="#333" stroke-width="1.6"/>
<text x="492.5" y="1183.5" text-anchor="middle" font-size="21" font-weight="bold" textLength="309" lengthAdjust="spacingAndGlyphs" style="fill:#2ecc71">MACD Signal: Strong Buy Signal</text>

<!-- ============ X AXIS LABELS ============ -->
<text class="xl" transform="translate(197,1361) rotate(-45)">2025-09-01</text>
<text class="xl" transform="translate(318.3,1361) rotate(-45)">2025-09-17</text>
<text class="xl" transform="translate(439.6,1361) rotate(-45)">2025-10-10</text>
<text class="xl" transform="translate(560.9,1361) rotate(-45)">2025-10-28</text>
<text class="xl" transform="translate(682.2,1361) rotate(-45)">2025-11-13</text>
<text class="xl" transform="translate(803.5,1361) rotate(-45)">2025-12-01</text>
<text class="xl" transform="translate(924.8,1361) rotate(-45)">2025-12-17</text>
<text class="xl" transform="translate(1046.1,1361) rotate(-45)">2026-01-07</text>
<text class="xl" transform="translate(1167.4,1361) rotate(-45)">2026-01-23</text>
<text class="xl" transform="translate(1288.7,1361) rotate(-45)">2026-02-10</text>
<text class="al" x="803" y="1472" font-size="23" textLength="52" lengthAdjust="spacingAndGlyphs">Date</text>
</svg>
</body></html>
